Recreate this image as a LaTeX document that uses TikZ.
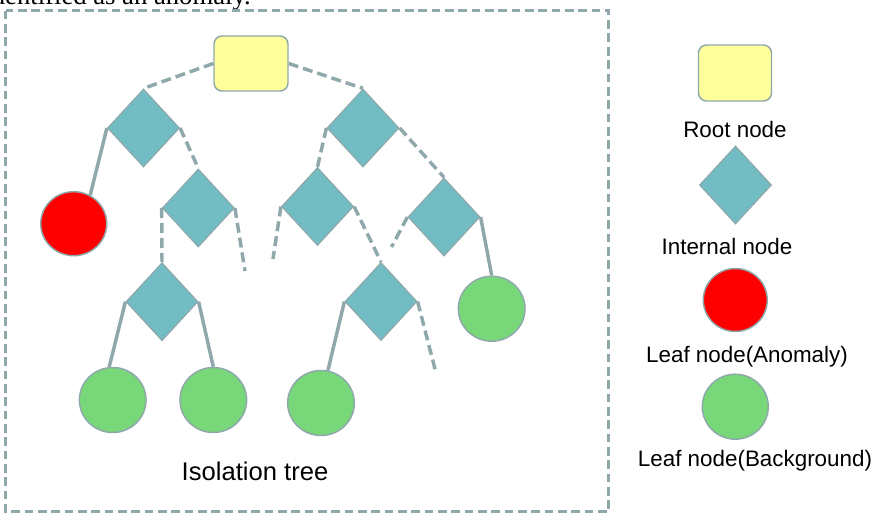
\documentclass[tikz,border=0pt]{standalone}
\usepackage{fontspec}
\setmainfont{Liberation Sans}
\newfontfamily\seriffont{Liberation Serif}
\usetikzlibrary{shapes.geometric,backgrounds}
\definecolor{edgec}{HTML}{8FA8AB}
\definecolor{diac}{HTML}{72BCC3}
\definecolor{rootc}{HTML}{FFFF9C}
\definecolor{leafg}{HTML}{78D779}
\definecolor{leafr}{HTML}{FF0000}
\begin{document}
\begin{tikzpicture}[x=0.75pt,y=-0.75pt,
  rootbox/.style={rectangle,draw=edgec,line width=1.1pt,fill=rootc,rounded corners=6pt,minimum width=55.5pt,minimum height=41.25pt,inner sep=0pt},
  dianode/.style={diamond,draw=edgec,line width=0.9pt,fill=diac,minimum width=54pt,minimum height=58.5pt,inner sep=0pt},
  redleaf/.style={ellipse,draw=edgec,line width=1.1pt,fill=leafr,minimum width=49.5pt,minimum height=48pt,inner sep=0pt},
  greenleaf/.style={ellipse,draw=edgec,line width=1.1pt,fill=leafg,minimum width=50pt,minimum height=48.75pt,inner sep=0pt},
  solidedge/.style={draw=edgec,line width=2.6pt},
  dashedge/.style={draw=edgec,line width=2.6pt,dash pattern=on 7.5pt off 3.75pt},
  framebox/.style={draw=edgec,line width=2.6pt,dash pattern=on 6.5pt off 3.5pt},
  legendtext/.style={anchor=base,inner sep=0pt,font=\fontsize{16.8pt}{20pt}\selectfont},
  titletext/.style={anchor=base,inner sep=0pt,font=\fontsize{19.2pt}{23pt}\selectfont}
]
\useasboundingbox (0,0) rectangle (876,514);
\node[anchor=base west,inner sep=0pt,font=\seriffont\fontsize{20pt}{24pt}\selectfont] (caption) at (-15.8,5) {identified as an anomaly.};
\draw[framebox] (5.5,10.5) rectangle (608.5,511.5);

% tree nodes
\node[rootbox] (root) at (251,63.5) {};
\node[dianode] (d1) at (143.5,128) {};
\node[dianode] (d2) at (198.3,208) {};
\node[dianode] (d3) at (363,128) {};
\node[dianode] (d4) at (317.5,206.5) {};
\node[dianode] (d5) at (444,217) {};
\node[dianode] (d6) at (162,301.7) {};
\node[dianode] (d7) at (381,301.5) {};
\node[redleaf] (r1) at (73.7,223.7) {};
\node[greenleaf] (g1) at (112.7,400) {};
\node[greenleaf] (g2) at (213.3,400) {};
\node[greenleaf] (g3) at (321,403) {};
\node[greenleaf] (g4) at (491.7,308.7) {};
\coordinate (e1) at (245,271);
\coordinate (e2) at (273,259);
\coordinate (e3) at (391.5,247);
\coordinate (e4) at (436,373);

\begin{scope}[on background layer]
\draw[dashedge] (root.west) -- (d1.north);
\draw[dashedge] (root.east) -- (d3.north);
\draw[solidedge] (d1.west) -- (r1.60);
\draw[dashedge] (d1.east) -- (d2.north);
\draw[dashedge] (d2.west) -- (d6.north);
\draw[dashedge] (d2.east) -- (e1);
\draw[dashedge] (d3.west) -- (d4.north);
\draw[dashedge] (d3.east) -- (d5.north);
\draw[dashedge] (d4.west) -- (e2);
\draw[dashedge] (d4.east) -- (d7.north);
\draw[dashedge] (d5.west) -- (e3);
\draw[solidedge] (d5.east) -- (g4.north);
\draw[solidedge] (d6.west) -- (g1.96);
\draw[solidedge] (d6.east) -- (g2.north);
\draw[solidedge] (d7.west) -- (g3.78);
\draw[dashedge] (d7.east) -- (e4);
\end{scope}

\node[titletext] (title) at (255,480) {Isolation tree};

% legend
\node[rootbox,minimum width=54.75pt,minimum height=42pt] (lroot) at (735,73) {};
\node[legendtext] (troot) at (735,137.3) {Root node};
\node[dianode] (ldia) at (735.5,185) {};
\node[legendtext] (tdia) at (727,254) {Internal node};
\node[redleaf,minimum width=48pt,minimum height=47.25pt] (lred) at (735.3,300) {};
\node[legendtext] (tred) at (747,362.5) {Leaf node(Anomaly)};
\node[greenleaf,minimum width=49.5pt,minimum height=48.75pt] (lgreen) at (735.3,406.7) {};
\node[legendtext] (tgreen) at (755,466) {Leaf node(Background)};
\end{tikzpicture}
\end{document}
